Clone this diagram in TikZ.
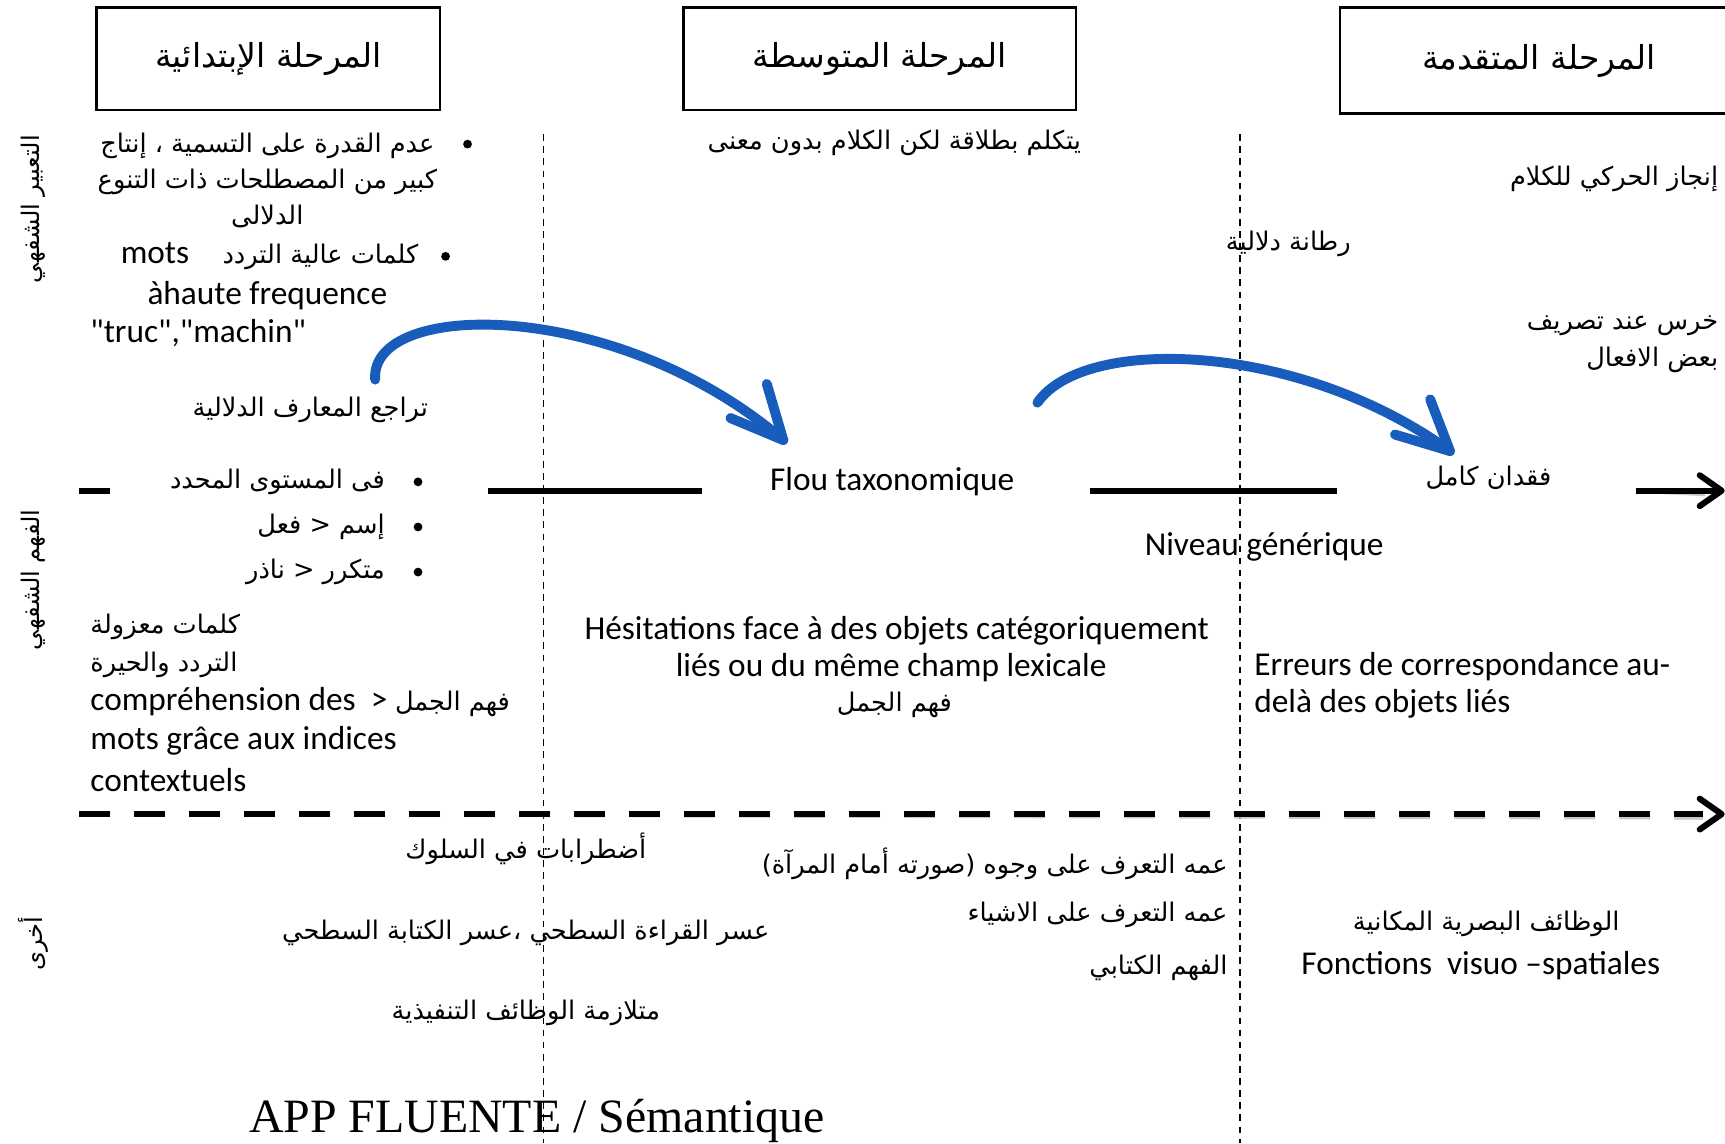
\documentclass[tikz,border=0pt]{standalone}
\usepackage{fontspec}
\setmainfont{Carlito}
\newfontfamily\arabicfont[Script=Arabic]{DejaVu Sans}
\newfontfamily\titlefont{Liberation Serif}
\TeXXeTstate=1
\usetikzlibrary{arrows.meta}
\newcommand\ar[1]{{\arabicfont\beginR #1\endR}}
\newcommand\arsz{\fontsize{23.3}{33}\selectfont}
\newcommand\latsz{\fontsize{30.3}{34}\selectfont}
\definecolor{arrblue}{RGB}{24,92,188}
\begin{document}
\begin{tikzpicture}[x=1pt,y=-1pt,
  phasebox/.style={draw, line width=2.4pt, inner sep=0pt, font=\fontsize{30}{34}\selectfont},
  arx/.style={font=\arsz, inner sep=0pt, align=center},
  latx/.style={font=\latsz, inner sep=0pt, align=center},
  vlab/.style={font=\fontsize{22}{24}\selectfont, inner sep=0pt, rotate=90},
  bul/.style={circle, fill=black, inner sep=0pt, minimum size=8pt},
  solidln/.style={line width=5.5pt, black},
  dashln/.style={line width=5.5pt, black, dash pattern=on 28pt off 22pt},
  shadowln/.style={line width=4pt, black!22, yshift=-3pt},
  headln/.style={line width=5.5pt, black, line cap=round, line join=round},
  vdash/.style={line width=1.3pt, black, dash pattern=on 6pt off 5pt},
  bluearr/.style={line width=9pt, arrblue, line cap=round, line join=round}
]
\useasboundingbox (0,0) rectangle (1568,1039);
\fill[white] (0,0) rectangle (1568,1039);

% phase boxes
\node[phasebox, minimum width=312pt, minimum height=93pt] (p1) at (244,53.5) {\ar{المرحلة الإبتدائية}};
\node[phasebox, minimum width=357pt, minimum height=93pt] (p2) at (799.5,53.5) {\ar{المرحلة المتوسطة}};
\node[phasebox, minimum width=362pt, minimum height=96pt] (p3) at (1399,55) {\ar{المرحلة المتقدمة}};

% vertical dashed separators
\coordinate (d1t) at (494,122); \coordinate (d1b) at (494,1039);
\coordinate (d2t) at (1127,122); \coordinate (d2b) at (1127,1039);
\draw[vdash] (d1t) -- (d1b);
\draw[vdash] (d2t) -- (d2b);

% row labels
\node[vlab] (v1) at (30,190) {\ar{التعبير الشفهي}};
\node[vlab] (v2) at (30,527) {\ar{الفهم الشفهي}};
\node[vlab] (v3) at (30,858) {\ar{أخرى}};

% row 1 : expression
\node[bul] (b1) at (425,131) {};
\node[arx] (e1) at (243,164) {\ar{عدم القدرة على التسمية ، إنتاج}\\ \ar{كبير من المصطلحات ذات التنوع}\\ \ar{الدلالى}};
\node[bul] (b2) at (405,233) {};
\node[inner sep=0pt] (e2) at (245,233) {\latsz mots\quad\arsz\ar{كلمات عالية التردد}};
\node[latx] (e3) at (243,269) {àhaute frequence};
\node[latx, anchor=west] (e4) at (82,303) {\textquotedbl truc\textquotedbl,\textquotedbl machin\textquotedbl};
\node[arx] (e5) at (282,373) {\ar{تراجع المعارف الدلالية}};

\node[arx] (m1) at (813,130) {\ar{يتكلم بطلاقة لكن الكلام بدون معنى}};
\node[arx] (m2) at (1171,222) {\ar{رطانة دلالية}};

\node[arx, anchor=east] (r1) at (1562,163) {\ar{إنجاز الحركي للكلام}};
\node[arx, anchor=east] (r2) at (1562,296) {\ar{خرس عند تصريف}};
\node[arx, anchor=east] (r3) at (1562,327) {\ar{بعض الافعال}};

% solid axis
\coordinate (s1a) at (72,446); \coordinate (s1b) at (100,446);
\coordinate (s2a) at (444,446); \coordinate (s2b) at (638,446);
\coordinate (s3a) at (991,446); \coordinate (s3b) at (1215,446);
\coordinate (s4a) at (1487,446); \coordinate (s4b) at (1565,446);
\coordinate (s4u) at (1545,432); \coordinate (s4d) at (1545,460);
\draw[shadowln] (s1a) -- (s1b) (s2a) -- (s2b) (s3a) -- (s3b) (s4a) -- (1550,446);
\draw[solidln] (s1a) -- (s1b);
\draw[solidln] (s2a) -- (s2b);
\draw[solidln] (s3a) -- (s3b);
\draw[solidln] (s4a) -- (s4b);
\draw[headln] (s4u) -- (s4b) -- (s4d);

% row 2 : comprehension
\node[bul] (b3) at (380,438) {};
\node[bul] (b4) at (380,479) {};
\node[bul] (b5) at (380,520) {};
\node[arx, anchor=east] (c1) at (350,438) {\ar{فى المستوى المحدد}};
\node[arx, anchor=east] (c2) at (350,479) {\ar{إسم < فعل}};
\node[arx, anchor=east] (c3) at (350,520) {\ar{متكرر < ناذر}};
\node[latx] (flou) at (811,438) {Flou taxonomique};
\node[arx] (loss) at (1353,434) {\ar{فقدان كامل}};
\node[latx] (gen) at (1149,497) {Niveau générique};

\node[arx, anchor=west] (c4) at (82,570) {\ar{كلمات معزولة}};
\node[arx, anchor=west] (c5) at (82,604) {\ar{التردد والحيرة}};
\node[inner sep=0pt, anchor=west] (c6) at (82,638) {\latsz compréhension des\ \ > \arsz\ar{فهم الجمل}};
\node[latx, anchor=west] (c7) at (82,673) {mots grâce aux indices};
\node[latx, anchor=west] (c8) at (82,709) {contextuels};

\node[latx] (h1) at (815,573) {Hésitations face à des objets catégoriquement};
\node[latx] (h2) at (810,607) {liés ou du même champ lexicale};
\node[arx] (h3) at (813,641) {\ar{فهم الجمل}};

\node[latx, anchor=west] (err1) at (1140,606) {Erreurs de correspondance au-};
\node[latx, anchor=west] (err2) at (1140,640) {delà des objets liés};

% dashed axis
\coordinate (da) at (72,740); \coordinate (db) at (1565,740);
\coordinate (dbu) at (1545,726); \coordinate (dbd) at (1545,754);
\draw[shadowln, dash pattern=on 28pt off 22pt] (da) -- (1548,740);
\draw[dashln] (da) -- (1548,740);
\draw[headln] (dbu) -- (db) -- (dbd);

% row 3 : others
\node[arx] (o1) at (478,772) {\ar{أضطرابات في السلوك}};
\node[arx] (o2) at (478,848) {\ar{عسر القراءة السطحي ،عسر الكتابة السطحي}};
\node[arx] (o3) at (478,921) {\ar{متلازمة الوظائف التنفيذية}};
\node[arx, anchor=east] (o4) at (1116,785) {\ar{عمه التعرف على وجوه (صورته  أمام المرآة)}};
\node[arx, anchor=east] (o5) at (1116,832) {\ar{عمه التعرف على الاشياء}};
\node[arx, anchor=east] (o6) at (1116,880) {\ar{الفهم الكتابي}};
\node[arx] (o7) at (1351,840) {\ar{الوظائف البصرية المكانية}};
\node[latx] (o8) at (1346,878) {Fonctions\ \ visuo –spatiales};

\node[inner sep=0pt, anchor=base, font=\titlefont\fontsize{43.5}{46}\selectfont] (title) at (488,1029) {APP FLUENTE / Sémantique};

% blue arrows
\coordinate (a1s) at (341,345); \coordinate (a1t) at (712,400);
\coordinate (a1u) at (697,349); \coordinate (a1l) at (664,380);
\draw[bluearr] (a1s) .. controls (336,272) and (560,270) .. (a1t);
\draw[bluearr] (a1u) -- (a1t) -- (a1l);
\coordinate (a2s) at (943,366); \coordinate (a2t) at (1318,410);
\coordinate (a2u) at (1300,363); \coordinate (a2l) at (1268,395);
\draw[bluearr] (a2s) .. controls (985,305) and (1180,310) .. (a2t);
\draw[bluearr] (a2u) -- (a2t) -- (a2l);
\end{tikzpicture}
\end{document}
